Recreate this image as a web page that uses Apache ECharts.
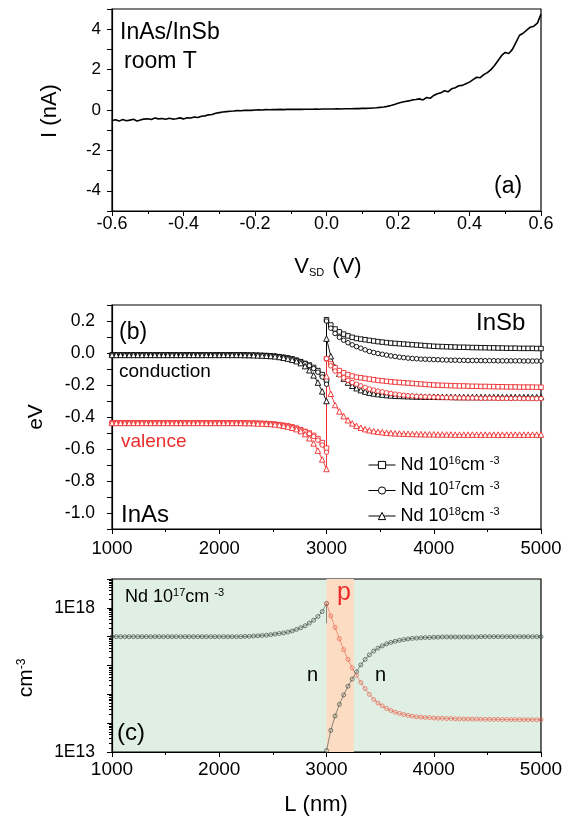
<!DOCTYPE html>
<html>
<head>
<meta charset="utf-8">
<script src="https://cdn.jsdelivr.net/npm/echarts@6/dist/echarts.min.js"></script>
<style>
  html, body { margin: 0; padding: 0; background: #fff; }
  #main { width: 566px; height: 817px; }
</style>
</head>
<body>
<div id="main"></div>
<script>
// (a) I-V, V_SD from -0.60 to 0.60 V in 0.01 V steps
const I_nA = [
  -0.52, -0.48, -0.55, -0.47, -0.53, -0.50, -0.46, -0.54, -0.49, -0.45,
  -0.43, -0.47, -0.40, -0.44, -0.42, -0.46, -0.41, -0.45, -0.43, -0.39,
  -0.44, -0.38, -0.40, -0.35, -0.37, -0.31, -0.29, -0.24, -0.22, -0.16,
  -0.13, -0.10, -0.08, -0.06, -0.05, -0.03, -0.04, -0.02, -0.01, -0.02,
  0.00, 0.01, 0.00, 0.02, 0.01, 0.02, 0.02, 0.03, 0.02, 0.03,
  0.03, 0.03, 0.04, 0.03, 0.04, 0.04, 0.04, 0.05, 0.04, 0.05,
  0.05, 0.05, 0.05, 0.06, 0.05, 0.06, 0.06, 0.06, 0.07, 0.07,
  0.08, 0.08, 0.09, 0.10, 0.11, 0.13, 0.15, 0.18, 0.22, 0.27,
  0.33, 0.38, 0.42, 0.45, 0.50, 0.52, 0.55, 0.50, 0.62, 0.58,
  0.72, 0.80, 0.85, 0.95, 0.90, 1.05, 1.10, 1.20, 1.22, 1.30,
  1.38, 1.50, 1.62, 1.60, 1.75, 1.85, 2.00, 2.20, 2.45, 2.70,
  2.85, 2.80, 3.00, 3.35, 3.70, 3.80, 3.95, 4.10, 4.15, 4.30,
  4.75
]
const V_SD = I_nA.map((_, i) => +(-0.6 + i * 0.01).toFixed(2))

// (b),(c) positions, 40 nm mesh on each side of the junction at 3000 nm
const L_InAs = Array.from({ length: 51 }, (_, i) => 1000 + 40 * i)
const L_InSb = Array.from({ length: 51 }, (_, i) => 3000 + 40 * i)

// (b) band edges (eV), conduction
const cInAs16 = [
  -0.012, -0.012, -0.012, -0.012, -0.012, -0.012, -0.012, -0.012, -0.012, -0.012,
  -0.012, -0.012, -0.012, -0.012, -0.012, -0.012, -0.012, -0.012, -0.012, -0.012,
  -0.012, -0.012, -0.012, -0.012, -0.012, -0.012, -0.012, -0.012, -0.012, -0.012,
  -0.012, -0.012, -0.013, -0.013, -0.014, -0.015, -0.016, -0.018, -0.020, -0.023,
  -0.027, -0.031, -0.037, -0.045, -0.054, -0.065, -0.075, -0.090, -0.110, -0.135,
  -0.170
]
const cInAs17 = [
  -0.012, -0.012, -0.012, -0.012, -0.012, -0.012, -0.012, -0.012, -0.012, -0.012,
  -0.012, -0.012, -0.012, -0.012, -0.012, -0.012, -0.012, -0.012, -0.012, -0.012,
  -0.012, -0.012, -0.012, -0.012, -0.012, -0.012, -0.012, -0.012, -0.012, -0.012,
  -0.012, -0.012, -0.013, -0.013, -0.014, -0.015, -0.016, -0.018, -0.020, -0.023,
  -0.027, -0.032, -0.038, -0.046, -0.056, -0.067, -0.080, -0.097, -0.120, -0.150,
  -0.195
]
const cInAs18 = [
  -0.012, -0.012, -0.012, -0.012, -0.012, -0.012, -0.012, -0.012, -0.012, -0.012,
  -0.012, -0.012, -0.012, -0.012, -0.012, -0.012, -0.012, -0.012, -0.012, -0.012,
  -0.012, -0.012, -0.012, -0.012, -0.012, -0.012, -0.012, -0.012, -0.012, -0.012,
  -0.012, -0.013, -0.013, -0.014, -0.015, -0.016, -0.017, -0.019, -0.021, -0.025,
  -0.030, -0.035, -0.042, -0.051, -0.063, -0.082, -0.108, -0.140, -0.185, -0.240,
  -0.300
]
const cInSb16 = [
  0.208, 0.175, 0.150, 0.132, 0.118, 0.107, 0.098, 0.091, 0.087, 0.083,
  0.079, 0.075, 0.071, 0.068, 0.065, 0.062, 0.060, 0.058, 0.056, 0.054,
  0.052, 0.050, 0.048, 0.046, 0.044, 0.042, 0.041, 0.040, 0.039, 0.038,
  0.037, 0.036, 0.036, 0.035, 0.034, 0.034, 0.033, 0.033, 0.032, 0.032,
  0.031, 0.031, 0.030, 0.030, 0.030, 0.029, 0.029, 0.029, 0.029, 0.028,
  0.028
]
const cInSb17 = [
  0.200, 0.155, 0.122, 0.098, 0.080, 0.064, 0.051, 0.040, 0.030, 0.020,
  0.010, 0.003, -0.003, -0.008, -0.013, -0.018, -0.022, -0.026, -0.029, -0.032,
  -0.034, -0.036, -0.038, -0.039, -0.040, -0.041, -0.042, -0.043, -0.044, -0.045,
  -0.045, -0.046, -0.046, -0.047, -0.047, -0.047, -0.048, -0.048, -0.048, -0.048,
  -0.049, -0.049, -0.049, -0.049, -0.049, -0.049, -0.050, -0.050, -0.050, -0.050,
  -0.050
]
const cInSb18 = [
  0.090, -0.020, -0.090, -0.130, -0.160, -0.185, -0.205, -0.220, -0.232, -0.241,
  -0.248, -0.253, -0.257, -0.260, -0.263, -0.265, -0.267, -0.268, -0.269, -0.270,
  -0.271, -0.272, -0.272, -0.273, -0.273, -0.273, -0.274, -0.274, -0.274, -0.274,
  -0.275, -0.275, -0.275, -0.275, -0.275, -0.275, -0.275, -0.275, -0.275, -0.275,
  -0.275, -0.275, -0.275, -0.275, -0.275, -0.275, -0.275, -0.275, -0.275, -0.275,
  -0.275
]

// (b) band edges (eV), valence
const vInAs16 = [
  -0.437, -0.437, -0.437, -0.437, -0.437, -0.437, -0.437, -0.437, -0.437, -0.437,
  -0.437, -0.437, -0.437, -0.437, -0.437, -0.437, -0.437, -0.437, -0.437, -0.437,
  -0.437, -0.437, -0.437, -0.437, -0.437, -0.437, -0.437, -0.437, -0.437, -0.437,
  -0.437, -0.437, -0.438, -0.438, -0.439, -0.440, -0.441, -0.443, -0.445, -0.448,
  -0.452, -0.456, -0.462, -0.470, -0.479, -0.490, -0.500, -0.515, -0.535, -0.560,
  -0.595
]
const vInAs17 = [
  -0.437, -0.437, -0.437, -0.437, -0.437, -0.437, -0.437, -0.437, -0.437, -0.437,
  -0.437, -0.437, -0.437, -0.437, -0.437, -0.437, -0.437, -0.437, -0.437, -0.437,
  -0.437, -0.437, -0.437, -0.437, -0.437, -0.437, -0.437, -0.437, -0.437, -0.437,
  -0.437, -0.437, -0.438, -0.438, -0.439, -0.440, -0.441, -0.443, -0.445, -0.448,
  -0.452, -0.457, -0.463, -0.471, -0.481, -0.492, -0.505, -0.522, -0.545, -0.575,
  -0.620
]
const vInAs18 = [
  -0.437, -0.437, -0.437, -0.437, -0.437, -0.437, -0.437, -0.437, -0.437, -0.437,
  -0.437, -0.437, -0.437, -0.437, -0.437, -0.437, -0.437, -0.437, -0.437, -0.437,
  -0.437, -0.437, -0.437, -0.437, -0.437, -0.437, -0.437, -0.437, -0.437, -0.437,
  -0.437, -0.438, -0.438, -0.439, -0.440, -0.441, -0.442, -0.444, -0.446, -0.450,
  -0.455, -0.460, -0.467, -0.476, -0.488, -0.507, -0.533, -0.565, -0.610, -0.665,
  -0.725
]
const vInSb16 = [
  -0.035, -0.068, -0.092, -0.110, -0.124, -0.135, -0.144, -0.151, -0.155, -0.159,
  -0.163, -0.167, -0.171, -0.174, -0.177, -0.180, -0.182, -0.184, -0.186, -0.188,
  -0.190, -0.192, -0.194, -0.196, -0.198, -0.200, -0.201, -0.202, -0.203, -0.204,
  -0.205, -0.206, -0.206, -0.207, -0.208, -0.208, -0.209, -0.209, -0.210, -0.210,
  -0.211, -0.211, -0.212, -0.212, -0.212, -0.213, -0.213, -0.213, -0.213, -0.214,
  -0.214
]
const vInSb17 = [
  -0.035, -0.080, -0.113, -0.137, -0.155, -0.171, -0.184, -0.195, -0.205, -0.215,
  -0.225, -0.232, -0.238, -0.243, -0.248, -0.253, -0.257, -0.261, -0.264, -0.267,
  -0.269, -0.271, -0.273, -0.274, -0.275, -0.276, -0.277, -0.278, -0.279, -0.280,
  -0.280, -0.281, -0.281, -0.282, -0.282, -0.282, -0.283, -0.283, -0.283, -0.283,
  -0.284, -0.284, -0.284, -0.284, -0.284, -0.284, -0.285, -0.285, -0.285, -0.285,
  -0.285
]
const vInSb18 = [
  -0.145, -0.255, -0.325, -0.365, -0.395, -0.420, -0.440, -0.455, -0.467, -0.476,
  -0.483, -0.488, -0.492, -0.495, -0.498, -0.500, -0.502, -0.503, -0.504, -0.505,
  -0.506, -0.507, -0.507, -0.508, -0.508, -0.508, -0.509, -0.509, -0.509, -0.509,
  -0.510, -0.510, -0.510, -0.510, -0.510, -0.510, -0.510, -0.510, -0.510, -0.510,
  -0.510, -0.510, -0.510, -0.510, -0.510, -0.510, -0.510, -0.510, -0.510, -0.510,
  -0.510
]

// (c) carrier densities (cm^-3), Nd = 1e17
const nInAs = [
  1.00e17, 1.00e17, 1.00e17, 1.00e17, 1.00e17, 1.00e17, 1.00e17, 1.00e17, 1.00e17, 1.00e17,
  1.00e17, 1.00e17, 1.00e17, 1.00e17, 1.00e17, 1.00e17, 1.00e17, 1.00e17, 1.00e17, 1.00e17,
  1.00e17, 1.00e17, 1.00e17, 1.00e17, 1.00e17, 1.00e17, 1.00e17, 1.00e17, 1.00e17, 1.00e17,
  1.00e17, 1.02e17, 1.02e17, 1.05e17, 1.07e17, 1.10e17, 1.12e17, 1.17e17, 1.23e17, 1.29e17,
  1.35e17, 1.45e17, 1.58e17, 1.78e17, 2.04e17, 2.40e17, 2.95e17, 3.72e17, 5.01e17, 7.41e17,
  1.41e18
]
const nInAsInterface = 2.9e17
const nInSb = [
  1.12e13, 5.62e13, 1.78e14, 4.47e14, 9.55e14, 1.91e15, 3.39e15, 6.03e15, 1.05e16, 1.62e16,
  2.34e16, 3.16e16, 3.98e16, 4.79e16, 5.62e16, 6.31e16, 6.92e16, 7.41e16, 7.94e16, 8.32e16,
  8.71e16, 8.91e16, 9.12e16, 9.33e16, 9.33e16, 9.55e16, 9.55e16, 9.77e16, 9.77e16, 9.77e16,
  9.77e16, 9.77e16, 9.77e16, 9.77e16, 9.77e16, 9.77e16, 1.00e17, 1.00e17, 1.00e17, 1.00e17,
  1.00e17, 1.00e17, 1.00e17, 1.00e17, 1.00e17, 1.00e17, 1.00e17, 1.00e17, 1.00e17, 1.00e17,
  1.00e17
]
const pInSb = [
  1.41e18, 5.25e17, 2.09e17, 8.51e16, 3.55e16, 1.62e16, 8.32e15, 4.57e15, 2.57e15, 1.58e15,
  1.00e15, 6.61e14, 5.01e14, 3.98e14, 3.24e14, 2.75e14, 2.40e14, 2.19e14, 2.00e14, 1.86e14,
  1.74e14, 1.66e14, 1.62e14, 1.58e14, 1.55e14, 1.51e14, 1.48e14, 1.48e14, 1.45e14, 1.45e14,
  1.41e14, 1.41e14, 1.40e14, 1.39e14, 1.38e14, 1.38e14, 1.37e14, 1.36e14, 1.36e14, 1.35e14,
  1.35e14, 1.34e14, 1.34e14, 1.33e14, 1.33e14, 1.33e14, 1.32e14, 1.32e14, 1.32e14, 1.32e14,
  1.32e14
]
const pRegion = [3000, 3255]   // shaded p-type zone (nm)

const legendNames = { n16: '16', n17: '17', n18: '18' }

const FONT = 'Liberation Sans, Arial, Helvetica, sans-serif'
const RED = '#ee2b2b'
const C_RED = '#e8604c'
const C_DARK = '#3d4a44'

const pairs = (xs, ys) => xs.map((x, i) => [x, ys[i]])
const band = (a, b) => pairs(L_InAs, a).concat(pairs(L_InSb, b))

const chart = echarts.init(document.getElementById('main'), null, { renderer: 'canvas' })

const axisBase = {
  axisLine: { show: true, onZero: false, lineStyle: { color: '#000', width: 1.2 } },
  axisTick: { show: true, length: 5, lineStyle: { color: '#000', width: 1 } },
  minorTick: { show: true, splitNumber: 2, length: 3, lineStyle: { color: '#000', width: 1 } },
  splitLine: { show: false },
  axisLabel: { color: '#000', fontFamily: FONT, fontSize: 17 }
}
const ax = (extra) => {
  const o = JSON.parse(JSON.stringify(axisBase))
  for (const k in extra) {
    if (typeof extra[k] === 'object' && o[k] && !Array.isArray(extra[k])) Object.assign(o[k], extra[k])
    else o[k] = extra[k]
  }
  return o
}

// hollow markers: white fill, coloured outline
const lineSer = (name, data, color, symbol, size, xi) => ({
  name, type: 'line', xAxisIndex: xi, yAxisIndex: xi, data,
  symbol, symbolSize: size, showAllSymbol: true,
  lineStyle: { color, width: 0.9 }, itemStyle: { color: '#fff', borderColor: color, borderWidth: 0.9 },
  z: 3, silent: true
})

const supRich = {
  sup: { fontSize: 11, fontFamily: FONT, color: '#000', verticalAlign: 'top', lineHeight: 12 },
  base: { fontSize: 18, fontFamily: FONT, color: '#000', lineHeight: 20 }
}
const plain = v => String(v)

chart.setOption({
  animation: false,
  backgroundColor: '#fff',
  grid: [
    { left: 112, top: 9, width: 429, height: 202, show: true, borderColor: '#000', borderWidth: 1.2 },
    { left: 112, top: 305, width: 429, height: 224, show: true, borderColor: '#000', borderWidth: 1.2 },
    { left: 112, top: 579, width: 429, height: 173, show: true, borderColor: '#000', borderWidth: 1.2, backgroundColor: '#e0efe3' }
  ],
  xAxis: [
    ax({ type: 'value', gridIndex: 0, min: -0.6, max: 0.6, interval: 0.2,
      axisLabel: { margin: 4, fontSize: 18, formatter: v => Math.abs(v) < 1e-9 ? '0.0' : v.toFixed(1) } }),
    ax({ type: 'value', gridIndex: 1, min: 1000, max: 5000, interval: 1000,
      axisLabel: { margin: 10, fontSize: 18.5, formatter: plain } }),
    ax({ type: 'value', gridIndex: 2, min: 1000, max: 5000, interval: 1000,
      axisLabel: { margin: 8, fontSize: 19, formatter: plain } })
  ],
  yAxis: [
    ax({ type: 'value', gridIndex: 0, min: -5, max: 5, interval: 1, minorTick: { show: false },
      axisLabel: { margin: 11, formatter: v => (Math.round(v) % 2 === 0 && Math.abs(v) < 5) ? String(Math.round(v)) : '' } }),
    ax({ type: 'value', gridIndex: 1, min: -1.1, max: 0.3, interval: 0.1, minorTick: { show: false },
      axisLabel: { margin: 17, fontSize: 17.5, formatter: v => {
        const r = Math.round(v * 10)
        if (r % 2 !== 0 || r < -10 || r > 2) return ''
        return (r / 10).toFixed(1)
      } } }),
    ax({ type: 'log', gridIndex: 2, logBase: 10, min: 1e13, max: 1e19, interval: 1,
      minorTick: { show: true, splitNumber: 9, length: 3 },
      axisLabel: { margin: 17, fontSize: 17.5, formatter: v => {
        const e = Math.round(Math.log10(v))
        return (e === 18 || e === 13) ? '1E' + e : ''
      } } })
  ],
  legend: {
    data: ['n16', 'n17', 'n18'],
    orient: 'vertical', left: 363, top: 450,
    itemWidth: 27, itemHeight: 9, itemGap: 6.5,
    itemStyle: { color: '#fff', borderColor: '#000', borderWidth: 1 },
    lineStyle: { color: '#000', width: 1 },
    formatter: n => '{base|Nd 10}{sup|' + legendNames[n] + '}{base|cm }{sup|-3}',
    textStyle: { rich: supRich },
    selectedMode: false
  },
  series: [
    { type: 'line', xAxisIndex: 0, yAxisIndex: 0, data: pairs(V_SD, I_nA), symbol: 'none',
      lineStyle: { color: '#000', width: 1.6 }, silent: true },

    lineSer('n16', band(cInAs16, cInSb16), '#000', 'rect', 4.5, 1),
    lineSer('n17', band(cInAs17, cInSb17), '#000', 'circle', 4.5, 1),
    lineSer('n18', band(cInAs18, cInSb18), '#000', 'triangle', 5.5, 1),
    lineSer('v16', band(vInAs16, vInSb16), RED, 'rect', 4.5, 1),
    lineSer('v17', band(vInAs17, vInSb17), RED, 'circle', 4.5, 1),
    lineSer('v18', band(vInAs18, vInSb18), RED, 'triangle', 5.5, 1),

    { type: 'line', xAxisIndex: 2, yAxisIndex: 2, data: [], z: 1, silent: true,
      markArea: { silent: true, itemStyle: { color: '#fcdcc2' }, data: [[{ xAxis: pRegion[0] }, { xAxis: pRegion[1] }]] } },
    { type: 'line', xAxisIndex: 2, yAxisIndex: 2, z: 3, silent: true,
      data: pairs(L_InAs, nInAs).concat([{ value: [3000, nInAsInterface], symbol: 'none' }]),
      symbol: 'circle', symbolSize: 4, showAllSymbol: true,
      lineStyle: { color: C_DARK, width: 0.6 }, itemStyle: { color: 'rgba(255,255,255,0)', borderColor: C_DARK, borderWidth: 0.7 } },
    { type: 'line', xAxisIndex: 2, yAxisIndex: 2, z: 3, silent: true,
      data: pairs(L_InSb, nInSb),
      symbol: 'circle', symbolSize: 4, showAllSymbol: true,
      lineStyle: { color: C_DARK, width: 0.6 }, itemStyle: { color: 'rgba(255,255,255,0)', borderColor: C_DARK, borderWidth: 0.7 } },
    { type: 'line', xAxisIndex: 2, yAxisIndex: 2, z: 3, silent: true,
      data: pairs(L_InSb, pInSb),
      symbol: 'circle', symbolSize: 4, showAllSymbol: true,
      lineStyle: { color: C_RED, width: 0.6 }, itemStyle: { color: 'rgba(255,255,255,0)', borderColor: C_RED, borderWidth: 0.7 } }
  ],
  graphic: [
    // panel (a)
    { type: 'text', x: 120, y: 33, style: { text: 'InAs/InSb', font: '23px ' + FONT, fill: '#000', verticalAlign: 'middle' } },
    { type: 'text', x: 124, y: 62, style: { text: 'room T', font: '23px ' + FONT, fill: '#000', verticalAlign: 'middle' } },
    { type: 'text', x: 494, y: 187, style: { text: '(a)', font: '23px ' + FONT, fill: '#000', verticalAlign: 'middle' } },
    { type: 'text', x: 50, y: 111, rotation: Math.PI / 2, style: { text: 'I (nA)', font: '22px ' + FONT, fill: '#000', align: 'center', verticalAlign: 'middle' } },
    { type: 'text', x: 328, y: 267, style: {
      text: '{m|V}{s|SD}{m| (V)}', align: 'center', verticalAlign: 'middle',
      rich: { m: { fontSize: 22, fontFamily: FONT, color: '#000' }, s: { fontSize: 11, fontFamily: FONT, color: '#000', verticalAlign: 'bottom', padding: [0, 2, 0, 0] } } } },
    // panel (b)
    { type: 'text', x: 119, y: 333, style: { text: '(b)', font: '23px ' + FONT, fill: '#000', verticalAlign: 'middle' } },
    { type: 'text', x: 476, y: 323, style: { text: 'InSb', font: '24px ' + FONT, fill: '#000', verticalAlign: 'middle' } },
    { type: 'text', x: 119, y: 372, style: { text: 'conduction', font: '19px ' + FONT, fill: '#000', verticalAlign: 'middle' } },
    { type: 'text', x: 121, y: 442, style: { text: 'valence', font: '19px ' + FONT, fill: RED, verticalAlign: 'middle' } },
    { type: 'text', x: 121, y: 515, style: { text: 'InAs', font: '24px ' + FONT, fill: '#000', verticalAlign: 'middle' } },
    { type: 'text', x: 36, y: 417, rotation: Math.PI / 2, style: { text: 'eV', font: '21px ' + FONT, fill: '#000', align: 'center', verticalAlign: 'middle' } },
    // panel (c)
    { type: 'text', x: 125, y: 597, z: 10, style: {
      text: '{base|Nd 10}{sup|17}{base|cm }{sup|-3}', verticalAlign: 'middle', rich: supRich } },
    { type: 'text', x: 337, y: 593, z: 10, style: { text: 'p', font: '25px ' + FONT, fill: RED, verticalAlign: 'middle' } },
    { type: 'text', x: 307, y: 675, z: 10, style: { text: 'n', font: '20px ' + FONT, fill: '#000', verticalAlign: 'middle' } },
    { type: 'text', x: 375, y: 675, z: 10, style: { text: 'n', font: '20px ' + FONT, fill: '#000', verticalAlign: 'middle' } },
    { type: 'text', x: 117, y: 733, z: 10, style: { text: '(c)', font: '24px ' + FONT, fill: '#000', verticalAlign: 'middle' } },
    { type: 'text', x: 26, y: 678, rotation: Math.PI / 2, style: {
      text: '{m|cm}{s|-3}', align: 'center', verticalAlign: 'middle',
      rich: { m: { fontSize: 21, fontFamily: FONT, color: '#000' }, s: { fontSize: 12, fontFamily: FONT, color: '#000', verticalAlign: 'top' } } } },
    { type: 'text', x: 316, y: 805, style: { text: 'L (nm)', font: '22px ' + FONT, fill: '#000', align: 'center', verticalAlign: 'middle' } }
  ]
})
</script>
</body>
</html>
